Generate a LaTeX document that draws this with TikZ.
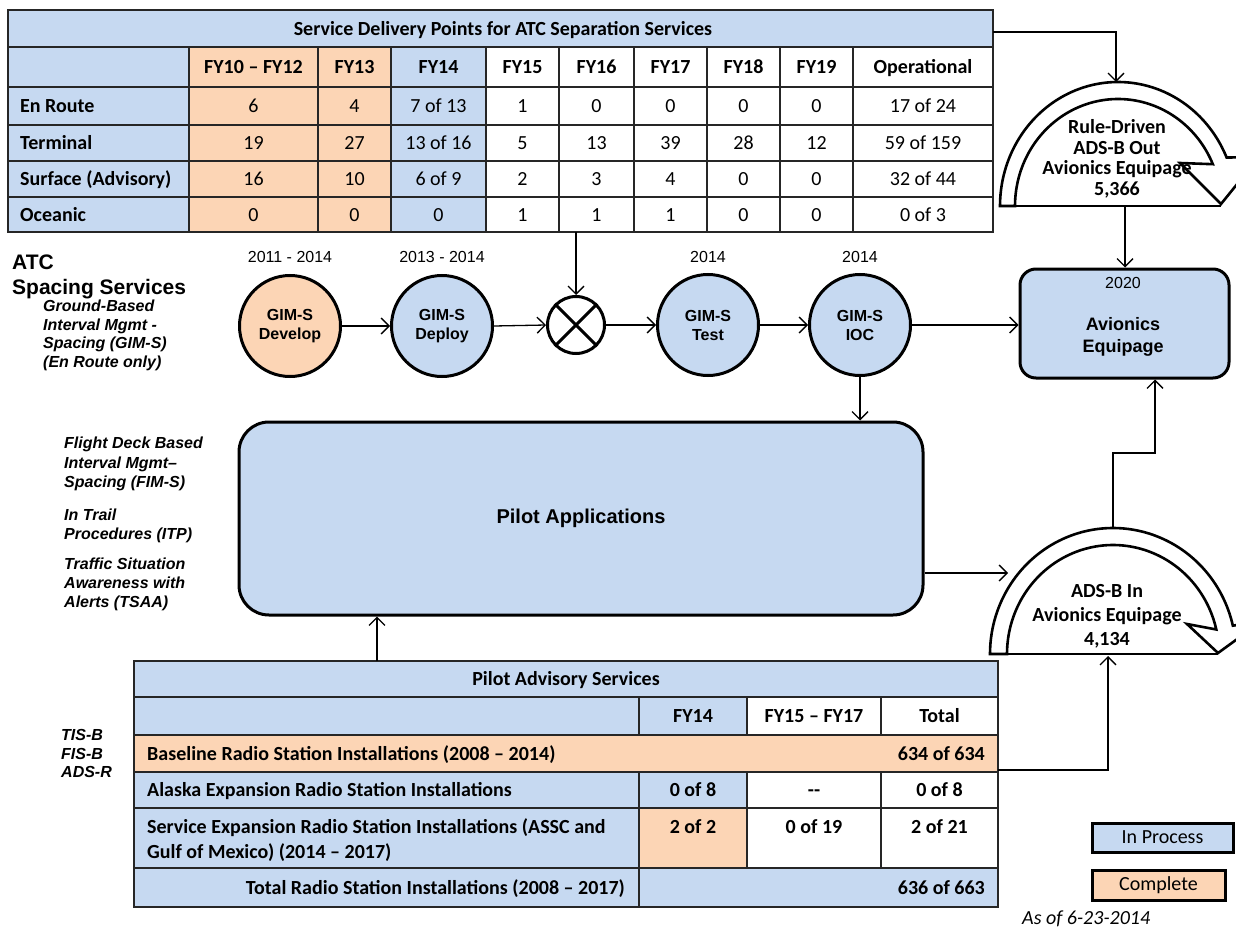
\documentclass[tikz,border=0pt]{standalone}
\usepackage{fontspec}
\setmainfont{Carlito}
\newfontfamily\arialf{Liberation Sans}
\usetikzlibrary{arrows.meta,calc}
\definecolor{bfill}{RGB}{198,217,241}
\definecolor{ofill}{RGB}{252,213,181}
\tikzset{
  tline/.style={line width=1.5pt, draw=black!85},
  cal/.style={font=\fontsize{20}{24}\selectfont, inner sep=0pt, text height=13pt, text depth=0pt},
  calb/.style={font=\fontsize{20}{24}\selectfont\bfseries, inner sep=0pt, text height=13pt, text depth=0pt},
  arb/.style={font=\arialf\bfseries\fontsize{16}{19}\selectfont, inner sep=0pt, text height=11.5pt, text depth=0pt},
  arbi/.style={font=\arialf\bfseries\itshape\fontsize{16}{19}\selectfont, inner sep=0pt, text height=11.5pt, text depth=0pt, anchor=west},
  arr/.style={font=\arialf\fontsize{16}{19}\selectfont, inner sep=0pt, text height=11.5pt, text depth=0pt},
  bigt/.style={font=\arialf\bfseries\fontsize{21}{25}\selectfont, inner sep=0pt, text height=15pt, text depth=0pt, anchor=west},
  gim/.style={circle, draw=black, line width=3pt, minimum size=101pt, inner sep=0pt, align=center, font=\arialf\bfseries\fontsize{16}{19}\selectfont},
  rbox/.style={draw=black, line width=3pt, fill=bfill, inner sep=0pt},
  conn/.style={line width=1.3pt, -{Straight Barb[length=8pt,width=16pt]}},
  arcsh/.style={draw=black, line width=2.6pt, fill=white, line join=miter},
  legbox/.style={draw=black, line width=3pt, inner sep=0pt, font=\fontsize{20}{24}\selectfont},
}
\newcommand\mlines[6]{\foreach \ll [count=\ii] in {#6} {\node[#5] (#1\ii) at (#2,{#3+(\ii-1)*#4}) {\ll};}}
\newcommand\toprow[4]{%
  \node[calb,anchor=west] (tl#1) at (20,#2) {#3};
  \foreach \vv [count=\cc] in {#4} {
    \pgfmathsetmacro\xq{{253.5,354.5,438.5,522.5,596.5,670.5,743.5,816.5,923}[\cc-1]}
    \node[cal] (tv#1-\cc) at (\xq,#2) {\vv};
  }}
\begin{document}
\begin{tikzpicture}[x=1pt,y=-1pt]
\useasboundingbox (0,0) rectangle (1236,928);
\clip (0,0) rectangle (1236,928);
\fill[white] (0,0) rectangle (1236,928);

% ===== top table
\fill[bfill] (8,10) rectangle (993,47);
\fill[bfill] (8,47) rectangle (189,232);
\fill[ofill] (189,47) rectangle (391,232);
\fill[bfill] (391,47) rectangle (486,232);
\foreach \yy in {47,87,125,161,197} \draw[tline] (8,\yy) -- (993,\yy);
\foreach \xx in {189,318,391,486,559,634,707,780,853} \draw[tline] (\xx,47) -- (\xx,232);
\draw[tline] (8,10) rectangle (993,232);
\node[calb] (ttitle) at (503,29) {Service Delivery Points for ATC Separation Services};
\foreach \hh [count=\cc] in {FY10 – FY12,FY13,FY14,FY15,FY16,FY17,FY18,FY19,Operational}{
  \pgfmathsetmacro\xq{{253.5,354.5,438.5,522.5,596.5,670.5,743.5,816.5,923}[\cc-1]}
  \node[calb] (th\cc) at (\xq,67) {\hh};}
\toprow{1}{106}{En Route}{6,4,7 of 13,1,0,0,0,0,17 of 24}
\toprow{2}{143}{Terminal}{19,27,13 of 16,5,13,39,28,12,59 of 159}
\toprow{3}{179}{Surface (Advisory)}{16,10,6 of 9,2,3,4,0,0,32 of 44}
\toprow{4}{214.5}{Oceanic}{0,0,0,1,1,1,0,0,0 of 3}
\coordinate (ttR) at (993,32);
\coordinate (ttB) at (576,232);

% ===== circular arrows
\draw[arcsh] plot[domain=180:337,samples=90] ({1118+118*cos(\x)},{206+124*sin(\x)})
  -- (1259,157) -- (1221,204) -- (1180,163)
  -- plot[domain=337:180,samples=90] ({1118+103*cos(\x)},{206+107*sin(\x)}) -- cycle;
\draw[line width=2pt] (1000,206) -- (1221,206);
\coordinate (rdTop) at (1116,82);
\coordinate (rdBase) at (1125,206);
\mlines{rd}{1117}{127}{20.7}{calb}{Rule-Driven,ADS-B Out,Avionics Equipage,{5,366}}

\draw[arcsh] plot[domain=180:347,samples=90] ({1113+123*cos(\x)},{654+126*sin(\x)})
  -- (1262,621) -- (1218,653) -- (1187,624)
  -- plot[domain=347:180,samples=90] ({1113+106*cos(\x)},{654+109*sin(\x)}) -- cycle;
\draw[line width=2pt] (990,654) -- (1218,654);
\coordinate (adsTop) at (1113,528);
\coordinate (adsL) at (1008,573);
\coordinate (adsBase) at (1108,656);
\mlines{ai}{1107}{591}{24}{calb}{ADS-B In,Avionics Equipage,{4,134}}

% ===== left texts
\node[bigt] (atc1) at (12,262) {ATC};
\node[bigt] (atc2) at (12,287) {Spacing Services};
\mlines{gb}{43}{306}{18.5}{arbi}{Ground-Based,Interval Mgmt -,Spacing (GIM-S),(En Route only)}
\mlines{fd}{64}{443}{19.5}{arbi}{Flight Deck Based,Interval Mgmt–,Spacing (FIM-S)}
\mlines{it}{64}{515}{18.5}{arbi}{In Trail,Procedures (ITP)}
\mlines{ts}{64}{564}{19}{arbi}{Traffic Situation,Awareness with,Alerts (TSAA)}
\mlines{tis}{61}{735}{18.5}{arbi}{TIS-B,FIS-B,ADS-R}

% ===== GIM-S chain
\node[arr] (y1) at (290,257) {2011 - 2014};
\node[arr] (y2) at (442,257) {2013 - 2014};
\node[arr] (y3) at (708,257) {2014};
\node[arr] (y4) at (860,257) {2014};
\node[gim, fill=ofill] (dev) at (290,326) {GIM-S\\Develop};
\node[gim, fill=bfill] (dep) at (442,326) {GIM-S\\Deploy};
\node[circle, draw=black, line width=3pt, fill=white, minimum size=57pt, inner sep=0pt] (xc) at (576,325) {};
\draw[line width=3pt] (xc.north west) -- (xc.south east) (xc.north east) -- (xc.south west);
\node[gim, fill=bfill] (tst) at (708,325) {GIM-S\\Test};
\node[gim, fill=bfill] (ioc) at (860,325) {GIM-S\\IOC};

% ===== boxes
\node[rbox, rounded corners=16pt, minimum width=209pt, minimum height=109pt] (av) at (1124.5,323.5) {};
\node[arr] (avy) at (1123,283) {2020};
\node[align=center, inner sep=0pt, font=\arialf\bfseries\fontsize{18}{22}\selectfont] (avt) at (1123,337) {Avionics\\Equipage};
\node[rbox, rounded corners=30pt, minimum width=684pt, minimum height=193pt, font=\arialf\bfseries\fontsize{20}{24}\selectfont] (pa) at (581,518.5) {Pilot Applications};

% ===== bottom table
\fill[bfill] (134,661) rectangle (998,697);
\fill[bfill] (134,697) rectangle (747,735);
\fill[ofill] (134,735) rectangle (998,772);
\fill[bfill] (134,772) rectangle (747,808);
\fill[bfill] (134,808) rectangle (639,868);
\fill[ofill] (639,808) rectangle (747,868);
\fill[bfill] (134,868) rectangle (998,907);
\foreach \yy in {697,735,772,808,868} \draw[tline] (134,\yy) -- (998,\yy);
\foreach \xx in {639,747,881} {\draw[tline] (\xx,697) -- (\xx,735); \draw[tline] (\xx,772) -- (\xx,868);}
\draw[tline] (639,868) -- (639,907);
\draw[tline] (134,661) rectangle (998,907);
\node[calb] (bt) at (566,679) {Pilot Advisory Services};
\node[calb] (bh1) at (693,716) {FY14};
\node[calb] (bh2) at (814,716) {FY15 – FY17};
\node[calb] (bh3) at (939.5,716) {Total};
\node[calb, anchor=west] (bl1) at (147,753.5) {Baseline Radio Station Installations (2008 – 2014)};
\node[calb, anchor=east] (bv1) at (985,753.5) {634 of 634};
\node[calb, anchor=west] (bl2) at (147,790) {Alaska Expansion Radio Station Installations};
\node[calb] (bv21) at (693,790) {0 of 8};
\node[calb] (bv22) at (814,790) {-{}-};
\node[calb] (bv23) at (939.5,790) {0 of 8};
\node[calb, anchor=west] (bl3a) at (147,827) {Service Expansion Radio Station Installations (ASSC and};
\node[calb, anchor=west] (bl3b) at (147,852) {Gulf of Mexico) (2014 – 2017)};
\node[calb] (bv31) at (693,827) {2 of 2};
\node[calb] (bv32) at (814,827) {0 of 19};
\node[calb] (bv33) at (939.5,827) {2 of 21};
\node[calb, anchor=east] (bl4) at (625,887.5) {Total Radio Station Installations (2008 – 2017)};
\node[calb, anchor=east] (bv4) at (985,887.5) {636 of 663};
\coordinate (btTop) at (377,661);
\coordinate (blR) at (998,770);

% ===== legend
\node[legbox, fill=bfill, minimum width=141pt, minimum height=29pt] (leg1) at (1162.5,837.5) {In Process};
\node[legbox, fill=ofill, minimum width=133pt, minimum height=30pt] (leg2) at (1158.5,885) {Complete};
\node[font=\fontsize{20}{24}\selectfont\itshape, inner sep=0pt, text height=13pt, text depth=0pt, anchor=west] (asof) at (1022,918) {As of 6-23-2014};

% ===== connectors
\draw[conn] (ttR) -| (rdTop);
\draw[conn] (rdBase) -- (rdBase |- av.north);
\draw[conn] (ttB) -- (xc.north);
\draw[conn] (dev.east) -- (dep.west);
\draw[conn] (dep.east) -- (xc.west);
\draw[conn] (xc.east) -- (tst.west);
\draw[conn] (tst.east) -- (ioc.west);
\draw[conn] (ioc.east) -- (ioc.east -| av.west);
\draw[conn] (ioc.south) -- (ioc.south |- pa.north);
\draw[conn] (btTop) -- (btTop |- pa.south);
\draw[conn] (pa.east |- adsL) -- (adsL);
\draw[conn] (adsTop) -- (1113,453) -| (1155,0 |- av.south);
\draw[conn] (blR) -| (adsBase);
\end{tikzpicture}
\end{document}
